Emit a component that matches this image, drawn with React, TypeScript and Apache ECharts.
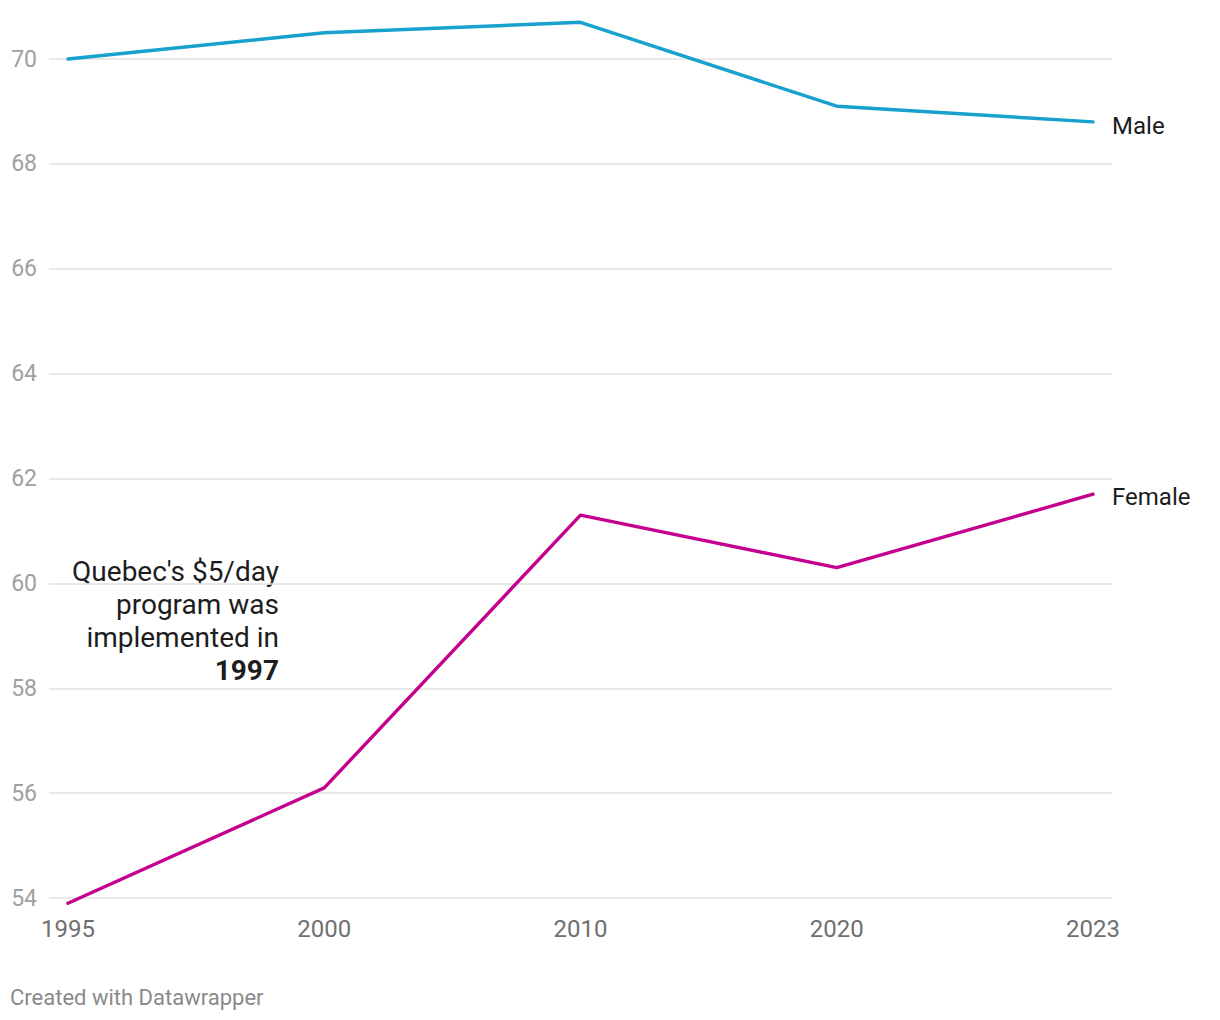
import React, { useEffect, useRef } from "react";
import * as echarts from "echarts";

const categories = ["1995", "2000", "2010", "2020", "2023"];
const maleValues = [70.0, 70.5, 70.7, 69.1, 68.8];
const femaleValues = [53.9, 56.1, 61.3, 60.3, 61.7];
const seriesNames = ["Male", "Female"];
const yMin = 54;
const yMax = 70;
const yStep = 2;
const annotationLines = ["Quebec's $5/day", "program was", "implemented in"];
const annotationBold = "1997";
const footerText = "Created with Datawrapper";

const FONT = "Roboto, 'Noto Sans', sans-serif";

export default function App() {
  const ref = useRef<HTMLDivElement>(null);

  useEffect(() => {
    if (!ref.current) return;
    const chart = echarts.init(ref.current, undefined, { renderer: "svg" });
    const toPairs = (vals: number[]) => vals.map((v, i) => [i, v]);
    const makeSeries = (name: string, vals: number[], color: string, offsetY: number) => ({
      name,
      type: "line",
      data: toPairs(vals),
      clip: false,
      symbol: "none",
      lineStyle: { color, width: 3.4, cap: "round", join: "round" },
      itemStyle: { color },
      endLabel: {
        show: true,
        formatter: "{a}",
        distance: 19,
        offset: [0, offsetY],
        color: "#1d1d1d",
        fontSize: 24,
        fontFamily: FONT,
      },
    });
    chart.setOption({
      animation: false,
      textStyle: { fontFamily: FONT },
      grid: { left: 49, right: 108, top: 59, bottom: 122, containLabel: false },
      xAxis: {
        type: "value",
        min: -0.074,
        max: categories.length - 1 + 0.074,
        axisLine: { show: false },
        axisTick: { show: false },
        splitLine: { show: false },
        axisLabel: {
          showMinLabel: false,
          showMaxLabel: false,
          margin: 19,
          color: "#6f6f6f",
          fontSize: 24,
          fontFamily: FONT,
          formatter: (v: number) => {
            const i = Math.round(v);
            return Math.abs(v - i) < 1e-6 && categories[i] ? categories[i] : "";
          },
        },
      },
      yAxis: {
        type: "value",
        min: yMin,
        max: yMax,
        interval: yStep,
        axisLine: { show: false },
        axisTick: { show: false },
        splitLine: { show: true, lineStyle: { color: "#e2e2e2", width: 1.5 } },
        axisLabel: {
          margin: 12,
          color: "#a0a0a0",
          fontSize: 23,
          fontFamily: FONT,
        },
      },
      series: [
        makeSeries(seriesNames[0], maleValues, "#18a1cd", 4),
        makeSeries(seriesNames[1], femaleValues, "#c4008f", 3),
      ],
      graphic: [
        {
          type: "text",
          x: 279,
          y: 555,
          style: {
            text: annotationLines.join("\n") + "\n{b|" + annotationBold + "}",
            align: "right",
            verticalAlign: "top",
            fill: "#1d1d1d",
            fontSize: 28,
            lineHeight: 33,
            fontFamily: FONT,
            rich: {
              b: { fontWeight: "bold", fontSize: 28, lineHeight: 33, fill: "#1d1d1d", fontFamily: FONT },
            },
          },
        },
        {
          type: "text",
          x: 10,
          y: 997,
          style: {
            text: footerText,
            align: "left",
            verticalAlign: "middle",
            fill: "#8a8a8a",
            fontSize: 22,
            fontFamily: FONT,
          },
        },
      ],
    });
    return () => chart.dispose();
  }, []);

  return (
    <div
      ref={ref}
      style={{ position: "absolute", left: 0, top: 0, width: 1220, height: 1020, background: "#ffffff" }}
    />
  );
}
